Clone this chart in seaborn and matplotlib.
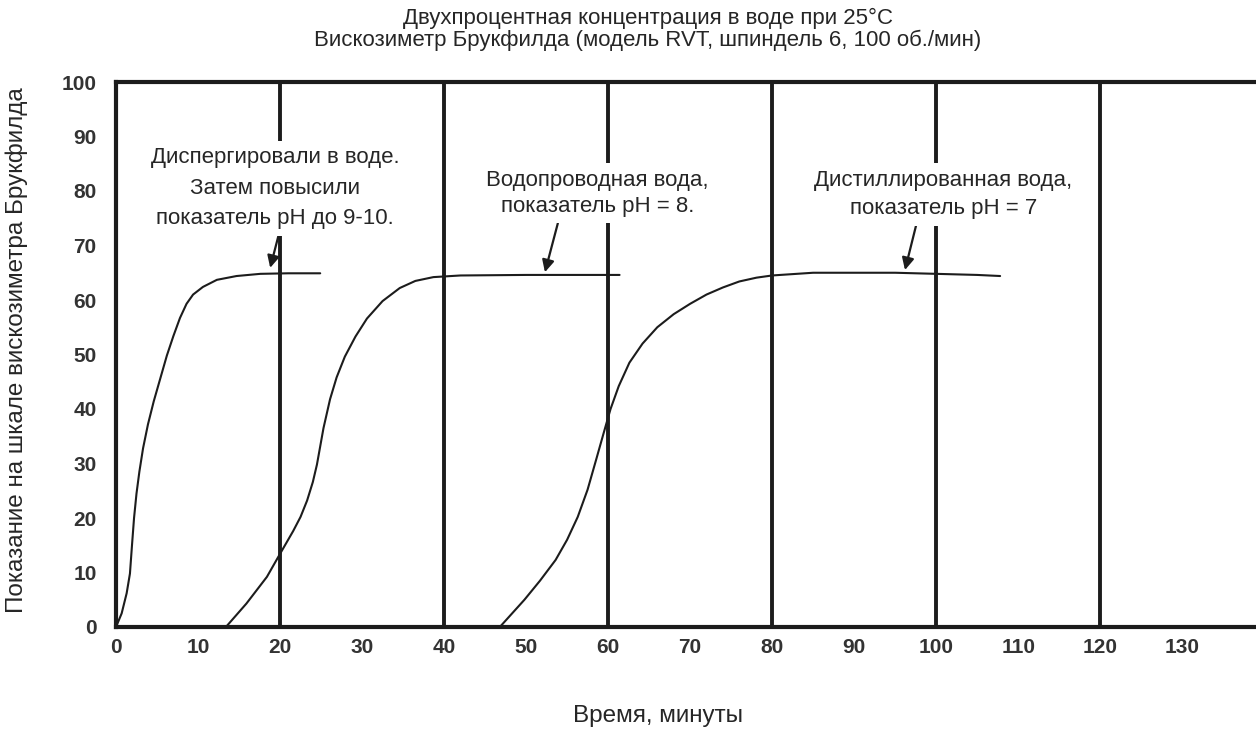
import matplotlib
matplotlib.use("Agg")
import matplotlib.pyplot as plt
import seaborn as sns
import pandas as pd

sns.set_style("white")
plt.rcParams['font.family'] = ['Liberation Sans', 'DejaVu Sans']

# ---- data ----
c1_x = [0, 0.69, 1.3, 1.7, 1.95, 2.2, 2.5, 2.85, 3.3, 3.9, 4.6, 5.4, 6.2, 7.0, 7.8, 8.6, 9.4, 10.6, 12.3, 14.7, 17.6, 21.0, 24.9]
c1_y = [0, 2.5, 6.2, 9.8, 15.0, 20.0, 24.5, 28.5, 32.8, 37.2, 41.4, 45.6, 49.8, 53.4, 56.7, 59.3, 61.0, 62.4, 63.7, 64.4, 64.8, 64.9, 64.9]

c2_x = [13.4, 15.9, 18.4, 19.8, 21.6, 22.5, 23.3, 24.0, 24.5, 25.3, 26.1, 26.9, 27.9, 29.2, 30.6, 32.5, 34.6, 36.5, 38.7, 42.0, 50.0, 61.4]
c2_y = [0, 4.3, 9.2, 12.9, 17.6, 20.2, 23.2, 26.6, 29.8, 36.5, 41.8, 45.8, 49.6, 53.3, 56.6, 59.8, 62.2, 63.5, 64.2, 64.5, 64.6, 64.6]

c3_x = [46.8, 48.3, 49.8, 51.7, 53.6, 55.0, 56.3, 57.5, 58.6, 59.5, 60.3, 61.3, 62.6, 64.2, 66.0, 68.0, 70.0, 72.0, 74.0, 76.0, 78.1, 80.0, 85.0, 95.0, 100.0, 105.0, 107.8]
c3_y = [0, 2.5, 5.0, 8.5, 12.3, 16.0, 20.2, 25.2, 31.0, 35.8, 40.0, 44.2, 48.5, 52.0, 55.0, 57.4, 59.3, 61.0, 62.3, 63.4, 64.1, 64.5, 65.0, 65.0, 64.8, 64.6, 64.4]

x_ticks = [0, 10, 20, 30, 40, 50, 60, 70, 80, 90, 100, 110, 120, 130]
y_ticks = [0, 10, 20, 30, 40, 50, 60, 70, 80, 90, 100]
grid_x = [20, 40, 60, 80, 100, 120]

title = "Двухпроцентная концентрация в воде при 25°C\nВискозиметр Брукфилда (модель RVT, шпиндель 6, 100 об./мин)"
x_label = "Время, минуты"
y_label = "Показание на шкале вискозиметра Брукфилда"

ann_texts = ["Диспергировали в воде.\nЗатем повысили\nпоказатель pH до 9-10.",
             "Водопроводная вода,\nпоказатель pH = 8.",
             "Дистиллированная вода,\nпоказатель pH = 7"]
ann_text_xy = [(19.4, 80.5), (58.7, 79.6), (100.9, 79.4)]
ann_tip_xy = [(18.8, 65.9), (52.3, 65.1), (96.2, 65.5)]

# ---- figure ----
W, H = 1256, 729
fig = plt.figure(figsize=(W / 100, H / 100), dpi=100)
ax = fig.add_axes([116 / W, 1 - 627 / H, (W - 116) / W, 545 / H])

ink = '#1c1c1c'
for gx in grid_x:
    ax.axvline(gx, color=ink, lw=2.8, zorder=1)

for xs, ys in [(c1_x, c1_y), (c2_x, c2_y), (c3_x, c3_y)]:
    df = pd.DataFrame({'t': xs, 'v': ys})
    sns.lineplot(data=df, x='t', y='v', sort=False, estimator=None, ax=ax,
                 color=ink, lw=1.5, zorder=3)

ax.set_xlim(0, 139)
ax.set_ylim(0, 100)
ax.set_xticks(x_ticks)
ax.set_yticks(y_ticks)

tick_font = ['Liberation Sans', 'DejaVu Sans']
ax.set_xticklabels([str(v) for v in x_ticks], family=tick_font, fontweight='bold', fontsize=15, color='#333333')
ax.set_yticklabels([str(v) for v in y_ticks], family=tick_font, fontweight='bold', fontsize=15, color='#333333')
ax.tick_params(axis='both', direction='in', length=15, width=2.6, color=ink)
ax.tick_params(axis='x', pad=8)
ax.tick_params(axis='y', pad=14)

for s in ['left', 'bottom', 'top']:
    ax.spines[s].set_visible(True)
    ax.spines[s].set_linewidth(3)
    ax.spines[s].set_color(ink)
ax.spines['right'].set_visible(False)

ax.set_xlabel(x_label, fontsize=17.5)
ax.set_ylabel(y_label, fontsize=17.5)
ax.xaxis.label.set_va('center')
ax.yaxis.label.set_va('center')
ax.xaxis.set_label_coords((658 - 116) / 1140, (627 - 716) / 545)
ax.yaxis.set_label_coords((17 - 116) / 1140, (627 - 350) / 545)

fig.text(648 / W, 1 - 29.5 / H, title, ha='center', va='center', fontsize=16, linespacing=1.0)

relx = [0.52, 0.33, 0.4]
lsp = [1.6, 1.3, 1.45]
for txt, txy, tip, rx, ls in zip(ann_texts, ann_text_xy, ann_tip_xy, relx, lsp):
    ax.annotate(txt, xy=tip, xytext=txy, ha='center', va='center', fontsize=16,
                linespacing=ls, zorder=5,
                bbox=dict(boxstyle='square,pad=0.3', fc='white', ec='none'),
                arrowprops=dict(arrowstyle='-|>', color=ink, lw=1.6, mutation_scale=18,
                                shrinkA=0, shrinkB=0, relpos=(rx, 0)))

fig.savefig('out.png', dpi=100)
